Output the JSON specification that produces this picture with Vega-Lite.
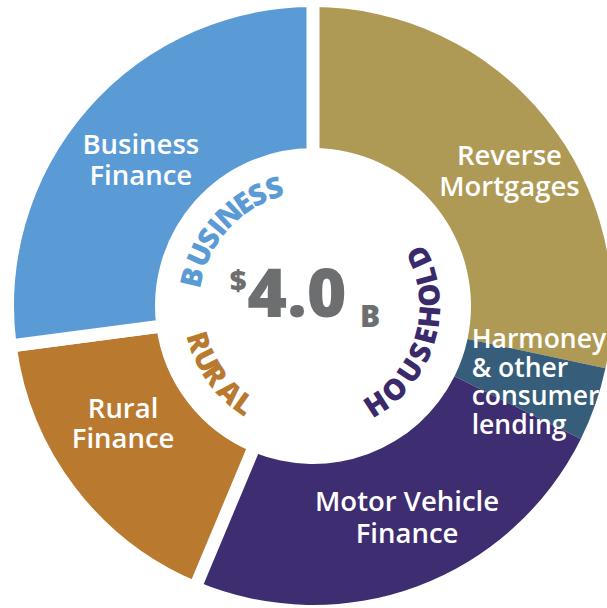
{
  "$schema": "https://vega.github.io/schema/vega-lite/v6.json",
  "width": 626,
  "height": 612,
  "autosize": "none",
  "padding": 0,
  "background": "white",
  "config": {"view": {"stroke": null}, "font": "Open Sans"},
  "datasets": {
    "segments": [
      {"segment": "Reverse Mortgages", "group": "Household", "seq": 1, "value": 1135, "label": "Reverse\nMortgages"},
      {"segment": "Harmoney & other consumer lending", "group": "Household", "seq": 2, "value": 160, "label": "Harmoney\n& other\nconsumer\nlending"},
      {"segment": "Motor Vehicle Finance", "group": "Household", "seq": 3, "value": 960, "label": "Motor Vehicle\nFinance"},
      {"segment": "Rural Finance", "group": "Rural", "seq": 4, "value": 665, "label": "Rural\nFinance"},
      {"segment": "Business Finance", "group": "Business", "seq": 5, "value": 1085, "label": "Business\nFinance"}
    ],
    "letters": [
      {"word": "BUSINESS", "k": 0, "ch": "B"},
      {"word": "BUSINESS", "k": 1, "ch": "U"},
      {"word": "BUSINESS", "k": 2, "ch": "S"},
      {"word": "BUSINESS", "k": 3, "ch": "I"},
      {"word": "BUSINESS", "k": 4, "ch": "N"},
      {"word": "BUSINESS", "k": 5, "ch": "E"},
      {"word": "BUSINESS", "k": 6, "ch": "S"},
      {"word": "BUSINESS", "k": 7, "ch": "S"},
      {"word": "RURAL", "k": 0, "ch": "R"},
      {"word": "RURAL", "k": 1, "ch": "U"},
      {"word": "RURAL", "k": 2, "ch": "R"},
      {"word": "RURAL", "k": 3, "ch": "A"},
      {"word": "RURAL", "k": 4, "ch": "L"},
      {"word": "HOUSEHOLD", "k": 0, "ch": "H"},
      {"word": "HOUSEHOLD", "k": 1, "ch": "O"},
      {"word": "HOUSEHOLD", "k": 2, "ch": "U"},
      {"word": "HOUSEHOLD", "k": 3, "ch": "S"},
      {"word": "HOUSEHOLD", "k": 4, "ch": "E"},
      {"word": "HOUSEHOLD", "k": 5, "ch": "H"},
      {"word": "HOUSEHOLD", "k": 6, "ch": "O"},
      {"word": "HOUSEHOLD", "k": 7, "ch": "L"},
      {"word": "HOUSEHOLD", "k": 8, "ch": "D"}
    ],
    "total": [{"currency": "$", "amount": "4.0", "unit": "B"}]
  },
  "layer": [
    {
      "data": {"name": "segments"},
      "mark": {"type": "arc", "outerRadius": 299, "innerRadius": 158},
      "encoding": {
        "theta": {"field": "value", "type": "quantitative", "stack": true},
        "order": {"field": "seq", "type": "quantitative"},
        "color": {"field": "segment", "type": "nominal", "legend": null,
          "scale": {"domain": ["Reverse Mortgages", "Harmoney & other consumer lending", "Motor Vehicle Finance", "Rural Finance", "Business Finance"],
                    "range": ["#AF9A55", "#365D79", "#3E2D70", "#B9792F", "#5A9BD6"]}}
      }
    },
    {
      "data": {"name": "segments"},
      "mark": {"type": "arc", "outerRadius": 305.5, "innerRadius": 151.5, "stroke": "white", "strokeWidth": 13},
      "encoding": {
        "theta": {"field": "value", "type": "quantitative", "stack": true},
        "order": {"field": "seq", "type": "quantitative"},
        "color": {"field": "segment", "type": "nominal", "legend": null,
          "scale": {"domain": ["Reverse Mortgages", "Harmoney & other consumer lending", "Motor Vehicle Finance", "Rural Finance", "Business Finance"],
                    "range": ["#AF9A55", "#365D79", "#3E2D70", "#B9792F", "#5A9BD6"]}},
        "opacity": {"condition": {"test": "datum.group !== 'Household'", "value": 1}, "value": 0}
      }
    },
    {
      "data": {"name": "letters"},
      "transform": [{"filter": "datum.word === 'BUSINESS'"}],
      "mark": {"type": "text", "radius": 123, "fontSize": 29, "fontWeight": 800, "align": "center", "baseline": "middle", "color": "#5A9BD6"},
      "encoding": {
        "theta": {"field": "k", "type": "quantitative", "stack": false, "scale": {"domain": [0, 1, 2, 3, 4, 5, 6, 7], "range": [4.94452, 5.13651, 5.2866, 5.4018, 5.53793, 5.68803, 5.81893, 5.96554], "zero": false, "nice": false}},
        "angle": {"field": "k", "type": "quantitative", "scale": {"domain": [0, 1, 2, 3, 4, 5, 6, 7], "range": [283.3, 294.3, 302.9, 309.5, 317.3, 325.9, 333.4, 341.8], "zero": false, "nice": false}},
        "text": {"field": "ch"}
      }
    },
    {
      "data": {"name": "letters"},
      "transform": [{"filter": "datum.word === 'RURAL'"}],
      "mark": {"type": "text", "radius": 121, "fontSize": 29, "fontWeight": 800, "align": "center", "baseline": "middle", "color": "#B9792F"},
      "encoding": {
        "theta": {"field": "k", "type": "quantitative", "stack": false, "scale": {"domain": [0, 1, 2, 3, 4], "range": [4.4087, 4.24115, 4.09977, 3.90954, 3.7577], "zero": false, "nice": false}},
        "angle": {"field": "k", "type": "quantitative", "scale": {"domain": [0, 1, 2, 3, 4], "range": [72.6, 63.0, 54.9, 44.0, 35.3], "zero": false, "nice": false}},
        "text": {"field": "ch"}
      }
    },
    {
      "data": {"name": "letters"},
      "transform": [{"filter": "datum.word === 'HOUSEHOLD'"}],
      "mark": {"type": "text", "radius": 118, "fontSize": 29, "fontWeight": 800, "align": "center", "baseline": "middle", "color": "#3A2A6B"},
      "encoding": {
        "theta": {"field": "k", "type": "quantitative", "stack": false, "scale": {"domain": [0, 1, 2, 3, 4, 5, 6, 7, 8], "range": [2.56913, 2.36841, 2.15897, 1.98095, 1.82736, 1.6633, 1.4783, 1.31249, 1.1397], "zero": false, "nice": false}},
        "angle": {"field": "k", "type": "quantitative", "scale": {"domain": [0, 1, 2, 3, 4, 5, 6, 7, 8], "range": [-32.8, -44.3, -56.3, -66.5, -75.3, -84.7, -95.3, -104.8, -114.7], "zero": false, "nice": false}},
        "text": {"field": "ch"}
      }
    },
    {
      "data": {"name": "segments"},
      "mark": {"type": "text", "radius": 225, "dx": -3, "dy": -11.5, "align": "center", "baseline": "middle", "lineBreak": "\n", "fontSize": 27.5, "fontWeight": 600, "lineHeight": 31, "color": "white"},
      "encoding": {
        "theta": {"field": "value", "type": "quantitative", "stack": true},
        "order": {"field": "seq", "type": "quantitative"},
        "detail": {"field": "segment"},
        "text": {"condition": {"test": "datum.segment === 'Business Finance'", "field": "label"}, "value": ""}
      }
    },
    {
      "data": {"name": "segments"},
      "mark": {"type": "text", "radius": 245, "dx": 6, "dy": 5.5, "align": "center", "baseline": "middle", "lineBreak": "\n", "fontSize": 27.5, "fontWeight": 600, "lineHeight": 31, "color": "white"},
      "encoding": {
        "theta": {"field": "value", "type": "quantitative", "stack": true},
        "order": {"field": "seq", "type": "quantitative"},
        "detail": {"field": "segment"},
        "text": {"condition": {"test": "datum.segment === 'Reverse Mortgages'", "field": "label"}, "value": ""}
      }
    },
    {
      "data": {"name": "segments"},
      "mark": {"type": "text", "radius": 168, "dx": 0, "dy": -21, "align": "left", "baseline": "middle", "lineBreak": "\n", "fontSize": 26.5, "fontWeight": 600, "lineHeight": 28.5, "color": "white"},
      "encoding": {
        "theta": {"field": "value", "type": "quantitative", "stack": true},
        "order": {"field": "seq", "type": "quantitative"},
        "detail": {"field": "segment"},
        "text": {"condition": {"test": "datum.segment === 'Harmoney & other consumer lending'", "field": "label"}, "value": ""}
      }
    },
    {
      "data": {"name": "segments"},
      "mark": {"type": "text", "radius": 232, "dx": 13, "dy": -20, "align": "center", "baseline": "middle", "lineBreak": "\n", "fontSize": 27.5, "fontWeight": 600, "lineHeight": 32, "color": "white"},
      "encoding": {
        "theta": {"field": "value", "type": "quantitative", "stack": true},
        "order": {"field": "seq", "type": "quantitative"},
        "detail": {"field": "segment"},
        "text": {"condition": {"test": "datum.segment === 'Motor Vehicle Finance'", "field": "label"}, "value": ""}
      }
    },
    {
      "data": {"name": "segments"},
      "mark": {"type": "text", "radius": 224, "dx": -12, "dy": -32, "align": "center", "baseline": "middle", "lineBreak": "\n", "fontSize": 27.5, "fontWeight": 600, "lineHeight": 30, "color": "white"},
      "encoding": {
        "theta": {"field": "value", "type": "quantitative", "stack": true},
        "order": {"field": "seq", "type": "quantitative"},
        "detail": {"field": "segment"},
        "text": {"condition": {"test": "datum.segment === 'Rural Finance'", "field": "label"}, "value": ""}
      }
    },
    {
      "data": {"name": "total"},
      "mark": {"type": "text", "x": {"expr": "width / 2"}, "y": {"expr": "height / 2"}, "dx": -16, "dy": 11, "align": "center", "baseline": "alphabetic", "fontSize": 68, "fontWeight": 800, "letterSpacing": 2, "color": "#6D6E70"},
      "encoding": {"text": {"field": "amount"}}
    },
    {
      "data": {"name": "total"},
      "mark": {"type": "text", "x": {"expr": "width / 2"}, "y": {"expr": "height / 2"}, "dx": -75, "dy": -15, "align": "center", "baseline": "alphabetic", "fontSize": 29, "fontWeight": 800, "color": "#6D6E70"},
      "encoding": {"text": {"field": "currency"}}
    },
    {
      "data": {"name": "total"},
      "mark": {"type": "text", "x": {"expr": "width / 2"}, "y": {"expr": "height / 2"}, "dx": 57, "dy": 21, "align": "center", "baseline": "alphabetic", "fontSize": 30, "fontWeight": 800, "color": "#6D6E70"},
      "encoding": {"text": {"field": "unit"}}
    }
  ],
  "resolve": {"scale": {"theta": "independent", "angle": "independent", "color": "independent"}}
}
